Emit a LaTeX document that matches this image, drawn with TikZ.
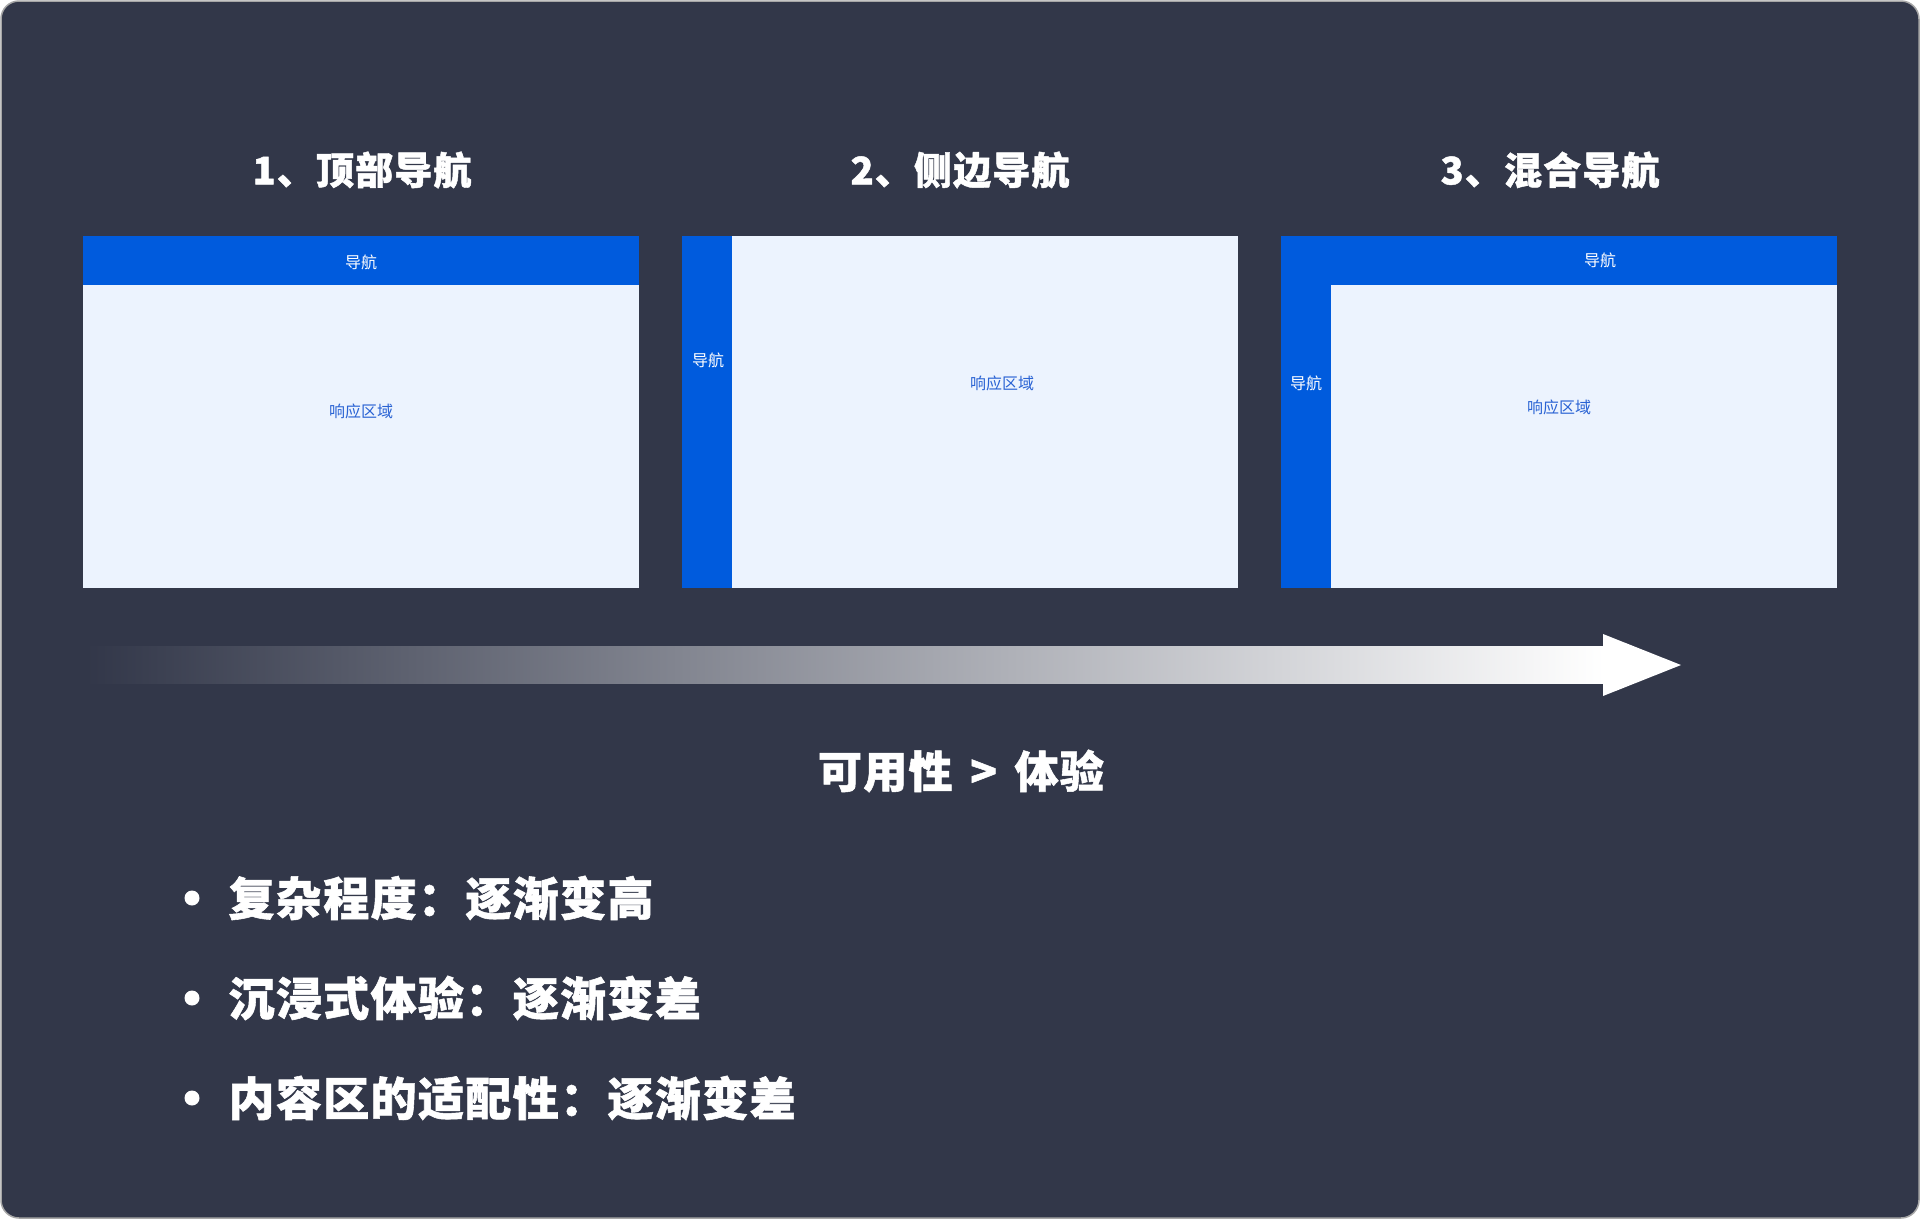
\documentclass[tikz,border=0pt]{standalone}
\usepackage{fontspec}
\newfontfamily\cjk{Noto Sans CJK SC}
\newfontfamily\cjkheavy[BoldFeatures={FakeBold=1.2, LetterSpace=3}]{Noto Sans CJK SC}
\definecolor{bgdark}{HTML}{323749}
\definecolor{navblue}{HTML}{005BDD}
\definecolor{areabg}{HTML}{ECF3FE}
\definecolor{areatext}{HTML}{2A63D4}
\begin{document}
\begin{tikzpicture}[x=1pt, y=-1pt,
    navbar/.style={fill=navblue},
    area/.style={fill=areabg},
    navlabel/.style={text=white, font=\cjk\fontsize{16}{18}\selectfont},
    arealabel/.style={text=areatext, font=\cjk\fontsize{16}{18}\selectfont},
    paneltitle/.style={text=white, font=\cjkheavy\bfseries\fontsize{38}{42}\selectfont},
    bigtext/.style={text=white, font=\cjkheavy\bfseries\fontsize{44}{48}\selectfont},
    bullettext/.style={text=white, anchor=west, font=\cjkheavy\bfseries\fontsize{46}{50}\selectfont}]
    \useasboundingbox (0,0) rectangle (1920,1219);
    \fill[white] (0,0) rectangle (1920,1219);
    \draw[gray!70, line width=1.5pt, fill=bgdark, rounded corners=18pt] (1,1) rectangle (1919,1218);

    % panel titles
    \node[paneltitle] (t1) at (362,170) {1、顶部导航};
    \node[paneltitle] (t2) at (960,170) {2、侧边导航};
    \node[paneltitle] (t3) at (1550,170) {3、混合导航};

    % 1: top nav
    \fill[area] (83,236) rectangle (639,588);
    \fill[navbar] (83,236) rectangle (639,285);
    \node[navlabel] (n1) at (361,262) {导航};
    \node[arealabel] (a1) at (361,411) {响应区域};

    % 2: side nav
    \fill[area] (682,236) rectangle (1238,588);
    \fill[navbar] (682,236) rectangle (732,588);
    \node[navlabel] (n2) at (708,360) {导航};
    \node[arealabel] (a2) at (1002,383) {响应区域};

    % 3: mixed nav
    \fill[area] (1281,236) rectangle (1837,588);
    \fill[navbar] (1281,236) rectangle (1837,285);
    \fill[navbar] (1281,285) rectangle (1331,588);
    \node[navlabel] (n3) at (1600,260) {导航};
    \node[navlabel] (n3s) at (1306,383) {导航};
    \node[arealabel] (a3) at (1559,407) {响应区域};

    % gradient arrow
    \shade[left color=bgdark, right color=white] (86,646) rectangle (1604,683);
    \fill[white] (1603,634) -- (1681,665) -- (1603,696) -- cycle;

    \node[bigtext] (sum) at (961,771) {可用性\hspace{0.4em}>\hspace{0.4em}体验};

    \foreach \y/\txt in {898/复杂程度：逐渐变高, 998/沉浸式体验：逐渐变差, 1098/内容区的适配性：逐渐变差}{
        \fill[white] (192,\y) circle (7.5);
        \node[bullettext] at (225,\y) {\txt};
    }
\end{tikzpicture}
\end{document}
